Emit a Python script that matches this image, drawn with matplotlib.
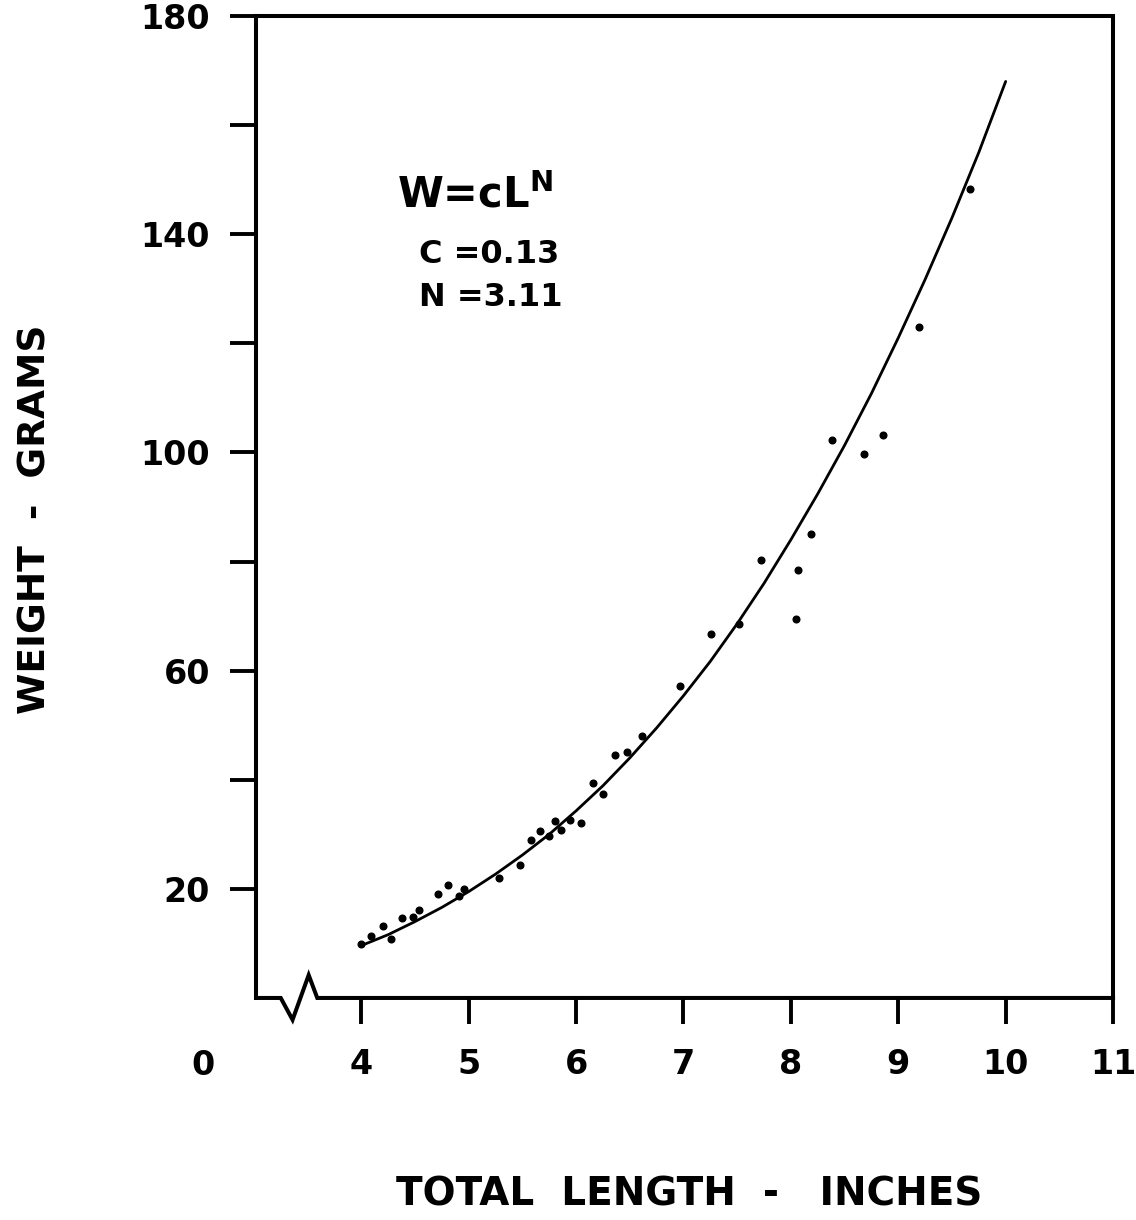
import numpy as np
import matplotlib
matplotlib.use("Agg")
import matplotlib.pyplot as plt

# observed fish: total length (inches) vs weight (grams)
length_in = [4.00, 4.09, 4.20, 4.28, 4.38, 4.48, 4.54, 4.71, 4.81, 4.91,
             4.96, 5.28, 5.48, 5.58, 5.66, 5.75, 5.80, 5.86, 5.94, 6.05,
             6.16, 6.25, 6.36, 6.47, 6.61, 6.97, 7.26, 7.52, 7.72, 8.05,
             8.07, 8.19, 8.38, 8.68, 8.86, 9.19, 9.67]
weight_g = [9.8, 11.4, 13.1, 10.8, 14.6, 14.9, 16.1, 19.1, 20.7, 18.6,
            20.0, 22.0, 24.4, 28.9, 30.6, 29.7, 32.4, 30.8, 32.6, 32.1,
            39.4, 37.3, 44.5, 45.1, 48.0, 57.1, 66.8, 68.5, 80.3, 69.5,
            78.4, 85.0, 102.3, 99.8, 103.2, 123.0, 148.2]

# fitted curve
curve_len = [4.0, 4.25, 4.5, 4.75, 5.0, 5.25, 5.5, 5.75, 6.0, 6.25, 6.5, 6.75,
             7.0, 7.25, 7.5, 7.75, 8.0, 8.25, 8.5, 8.75, 9.0, 9.25, 9.5, 9.75, 10.0]
curve_wt = [9.6, 11.6, 14.0, 16.6, 19.5, 22.7, 26.2, 30.0, 34.3, 38.9, 44.0, 49.5,
            55.4, 61.7, 68.6, 76.0, 84.0, 92.4, 101.3, 110.8, 121.0, 131.7, 143.0, 155.0, 168.0]

x_ticks = [4, 5, 6, 7, 8, 9, 10, 11]
y_ticks = [20, 40, 60, 80, 100, 120, 140, 160, 180]
y_labels = ["20", "", "60", "", "100", "", "140", "", "180"]

fig = plt.figure(figsize=(11.36, 12.2), dpi=100)
ax = fig.add_axes([0.2254, 0.182, 0.7544, 0.8049])

ax.plot(curve_len, curve_wt, color="black", lw=2.0, solid_capstyle="round")
ax.plot(length_in, weight_g, "o", color="black", ms=4.8)

ax.set_xlim(3.02, 11)
ax.set_ylim(0, 180)

ax.set_xticks(x_ticks)
ax.set_xticklabels([str(t) for t in x_ticks])
ax.set_yticks(y_ticks)
ax.set_yticklabels(y_labels)
ax.tick_params(axis="both", direction="out", length=19, width=2.8, color="black",
               labelsize=24)
ax.tick_params(axis="x", pad=17)
ax.tick_params(axis="y", pad=14)
for lab in ax.get_xticklabels() + ax.get_yticklabels():
    lab.set_fontweight("bold")

for s in ["left", "top", "right"]:
    ax.spines[s].set_linewidth(2.9)
ax.spines["bottom"].set_visible(False)

# bottom axis with break
bx = [3.02, 3.25, 3.36, 3.51, 3.59, 11.0]
by = [0, 0, -4.0, 4.2, 0, 0]
ax.plot(bx, by, color="black", lw=2.9, clip_on=False, solid_joinstyle="miter")

ax.text(-0.062, -0.069, "0", transform=ax.transAxes, fontsize=24,
        fontweight="bold", ha="center", va="center")

ax.text(0.255, 0.817, r"W=cL$^{\mathbf{N}}$", transform=ax.transAxes,
        fontsize=30, fontweight="bold", ha="center", va="center")
ax.text(0.190, 0.757, "C =0.13", transform=ax.transAxes,
        fontsize=23, fontweight="bold", ha="left", va="center")
ax.text(0.190, 0.713, "N =3.11", transform=ax.transAxes,
        fontsize=23, fontweight="bold", ha="left", va="center")

fig.text(0.031, 0.574, "WEIGHT  -  GRAMS", rotation=90, fontsize=27,
         fontweight="bold", ha="center", va="center")
fig.text(0.607, 0.021, "TOTAL  LENGTH  -   INCHES", fontsize=28,
         fontweight="bold", ha="center", va="center")

fig.savefig("out.png", dpi=100)
